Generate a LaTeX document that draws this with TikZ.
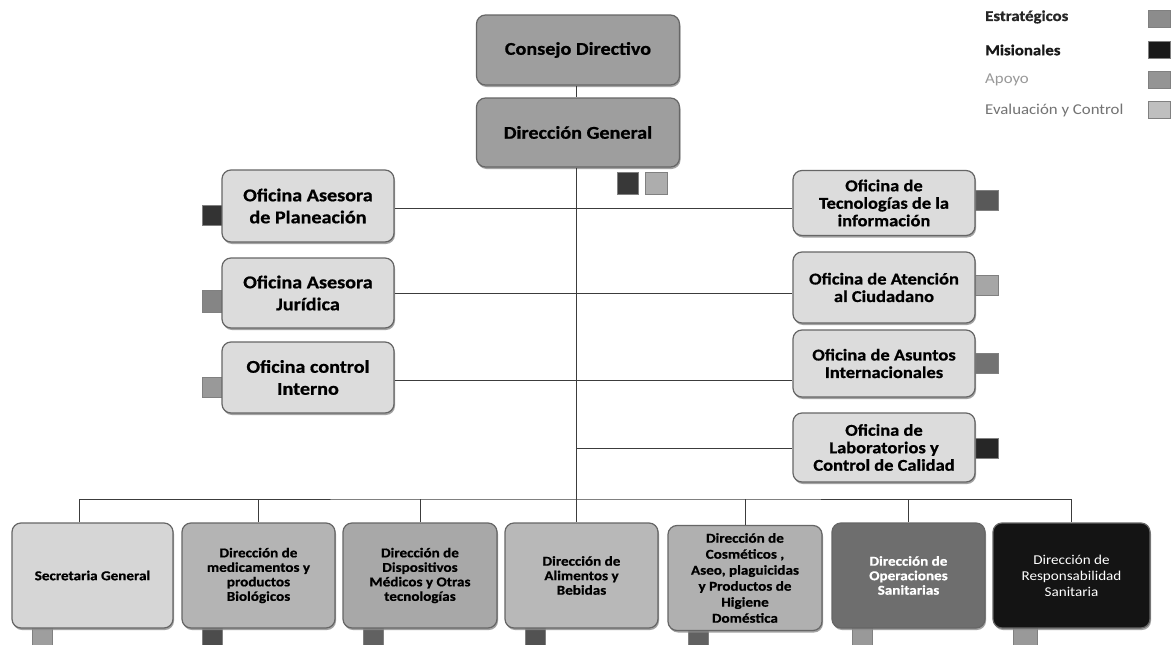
\documentclass[tikz,border=0pt]{standalone}
\usepackage{fontspec}
\setmainfont{Carlito}
\newfontfamily\boxfont{Carlito}[FakeStretch=1.12, BoldFeatures={FakeBold=0.8}]
\usetikzlibrary{shadows}
\definecolor{cStrat}{HTML}{9E9E9E}
\definecolor{cOfi}{HTML}{DCDCDC}
\definecolor{cSec}{HTML}{D6D6D6}
\definecolor{cMed}{HTML}{B4B4B4}
\definecolor{cDisp}{HTML}{A8A8A8}
\definecolor{cAlim}{HTML}{B8B8B8}
\definecolor{cCosm}{HTML}{B0B0B0}
\definecolor{cOper}{HTML}{6E6E6E}
\definecolor{cResp}{HTML}{141414}
\definecolor{cLine}{HTML}{3C3C3C}
\tikzset{
  orgbox/.style={draw=black!60, line width=1.2pt, rounded corners=9pt, align=center,
    inner sep=1pt, drop shadow={shadow xshift=1pt, shadow yshift=-2pt, fill=black!45, opacity=0.8}},
  topbox/.style={orgbox, fill=cStrat, font=\boxfont\fontsize{18}{22}\selectfont\bfseries},
  leftbox/.style={orgbox, fill=cOfi, font=\boxfont\fontsize{18}{22}\selectfont\bfseries},
  rightbox/.style={orgbox, fill=cOfi, font=\boxfont\fontsize{16.5}{17.5}\selectfont\bfseries},
  botbox/.style={orgbox, font=\boxfont\fontsize{13.5}{14.5}\selectfont\bfseries},
  sqr/.style={draw=black!50, line width=0.4pt, inner sep=0pt},
  conn/.style={draw=cLine, line width=0.8pt},
  legtext/.style={anchor=west, inner sep=0pt, font=\boxfont\fontsize{15}{17}\selectfont},
}
\begin{document}
\begin{tikzpicture}[x=1pt,y=-1pt]
\useasboundingbox (0,0) rectangle (1171,645);
\fill[white] (0,0) rectangle (1171,645);

% legend
\node[legtext, font=\boxfont\fontsize{15}{17}\selectfont\bfseries, text=black!85] (lg1) at (985,17) {Estratégicos};
\node[legtext, font=\boxfont\fontsize{15}{17}\selectfont\bfseries, text=black!90] (lg2) at (985,50) {Misionales};
\node[legtext, text=black!40] (lg3) at (985,80) {Apoyo};
\node[legtext, text=black!55] (lg4) at (985,110) {Evaluación y Control};
\node[sqr, fill=black!45, minimum width=22pt, minimum height=17pt] (lq1) at (1159,18.5) {};
\node[sqr, fill=black!90, minimum width=22pt, minimum height=17pt] (lq2) at (1159,50) {};
\node[sqr, fill=black!42, minimum width=22pt, minimum height=17pt] (lq3) at (1159,80) {};
\node[sqr, fill=black!25, minimum width=22pt, minimum height=17pt] (lq4) at (1159,110) {};

% small squares
\node[sqr, fill=black!78, minimum width=21pt, minimum height=22pt] (sdg1) at (627.5,183) {};
\node[sqr, fill=black!32, minimum width=22pt, minimum height=22pt] (sdg2) at (656.5,183) {};
\node[sqr, fill=black!80, minimum width=20pt, minimum height=20pt] (splan) at (212,215) {};
\node[sqr, fill=black!48, minimum width=20pt, minimum height=22pt] (sjur) at (212,301) {};
\node[sqr, fill=black!40, minimum width=20pt, minimum height=20pt] (sci) at (212,387) {};
\node[sqr, fill=black!65, minimum width=23pt, minimum height=20pt] (stec) at (986.5,200) {};
\node[sqr, fill=black!35, minimum width=23pt, minimum height=20pt] (saten) at (986.5,285) {};
\node[sqr, fill=black!55, minimum width=23pt, minimum height=20pt] (sasun) at (986.5,363) {};
\node[sqr, fill=black!85, minimum width=23pt, minimum height=20pt] (slab) at (986.5,448) {};
\node[sqr, fill=black!38, minimum width=20pt, minimum height=18pt] (ssec) at (42,636) {};
\node[sqr, fill=black!70, minimum width=20pt, minimum height=18pt] (smed) at (212.5,636) {};
\node[sqr, fill=black!62, minimum width=20pt, minimum height=18pt] (sdisp) at (373,636) {};
\node[sqr, fill=black!68, minimum width=20pt, minimum height=18pt] (salim) at (535,636) {};
\node[sqr, fill=black!62, minimum width=20pt, minimum height=18pt] (scosm) at (698,636) {};
\node[sqr, fill=black!40, minimum width=20pt, minimum height=18pt] (soper) at (862,636) {};
\node[sqr, fill=black!40, minimum width=24pt, minimum height=18pt] (sresp) at (1025,636) {};

% top boxes
\node[topbox, minimum width=203pt, minimum height=70pt] (cd) at (578,50) {Consejo Directivo};
\node[topbox, minimum width=203pt, minimum height=69pt] (dg) at (578,132.5) {Dirección General};

% left boxes
\node[leftbox, minimum width=172pt, minimum height=72pt] (plan) at (308,206) {Oficina Asesora\\de Planeación};
\node[leftbox, minimum width=172pt, minimum height=70pt] (jur) at (308,293) {Oficina Asesora\\Jurídica};
\node[leftbox, minimum width=172pt, minimum height=71pt] (ci) at (308,377.5) {Oficina control\\Interno};

% right boxes
\node[rightbox, minimum width=182pt, minimum height=65pt] (tec) at (884,203) {Oficina de\\Tecnologías de la\\información};
\node[rightbox, minimum width=182pt, minimum height=71pt] (aten) at (884,287.5) {Oficina de Atención\\al Ciudadano};
\node[rightbox, minimum width=182pt, minimum height=67pt] (asun) at (884,363.5) {Oficina de Asuntos\\Internacionales};
\node[rightbox, minimum width=182pt, minimum height=69pt] (lab) at (884,447.5) {Oficina de\\Laboratorios y\\Control de Calidad};

% bottom boxes
\node[botbox, fill=cSec, minimum width=161pt, minimum height=105pt] (sec) at (92.5,575.5) {Secretaria General};
\node[botbox, fill=cMed, minimum width=153pt, minimum height=105pt] (med) at (258.5,575.5) {Dirección de\\medicamentos y\\productos\\Biológicos};
\node[botbox, fill=cDisp, minimum width=154pt, minimum height=105pt] (disp) at (420,575.5) {Dirección de\\Dispositivos\\Médicos y Otras\\tecnologías};
\node[botbox, fill=cAlim, minimum width=153pt, minimum height=105pt] (alim) at (581.5,575.5) {Dirección de\\Alimentos y\\Bebidas};
\node[botbox, fill=cCosm, minimum width=154pt, minimum height=105pt, font=\boxfont\fontsize{13.5}{16}\selectfont\bfseries] (cosm) at (745,578) {Dirección de\\Cosméticos ,\\Aseo, plaguicidas\\y Productos de\\Higiene\\Doméstica};
\node[botbox, fill=cOper, text=white, minimum width=153pt, minimum height=105pt] (oper) at (908.5,575.5) {Dirección de\\Operaciones\\Sanitarias};
\node[botbox, fill=cResp, text=white, font=\boxfont\fontsize{13.5}{16}\selectfont, minimum width=157pt, minimum height=105pt] (resp) at (1071.5,575.5) {Dirección de\\Responsabilidad\\Sanitaria};

% junction coordinates
\coordinate (j1) at (576,208);
\coordinate (j2) at (576,293);
\coordinate (j3) at (576,380);
\coordinate (j4) at (576,448);
\coordinate (bus) at (576,499);
\coordinate (secdrop) at (79,499);

% connectors
\draw[conn] (cd.south -| j1) -- (dg.north -| j1);
\draw[conn] (dg.south -| j1) -- (alim.north -| j1);
\draw[conn] (plan.east |- j1) -- (tec.west |- j1);
\draw[conn] (jur.east |- j2) -- (aten.west |- j2);
\draw[conn] (ci.east |- j3) -- (asun.west |- j3);
\draw[conn] (j4) -- (lab.west |- j4);
\draw[conn] (sec.north -| secdrop) -- (secdrop) -- (bus) -| (resp.north);
\draw[conn] (med.north) -- (med.north |- bus);
\draw[conn] (disp.north) -- (disp.north |- bus);
\draw[conn] (cosm.north) -- (cosm.north |- bus);
\draw[conn] (oper.north) -- (oper.north |- bus);
\end{tikzpicture}
\end{document}
